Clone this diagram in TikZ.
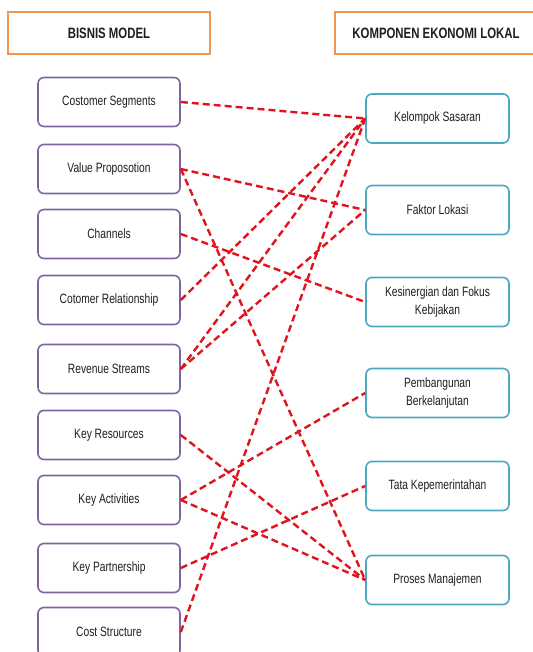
\documentclass[tikz,border=0pt]{standalone}
\usepackage{fontspec}
\setmainfont[FakeStretch=0.76]{Liberation Sans}
\definecolor{hdrorange}{RGB}{240,150,80}
\definecolor{leftpurple}{RGB}{128,100,162}
\definecolor{rightteal}{RGB}{75,168,190}
\definecolor{linkred}{RGB}{225,20,30}
\definecolor{txt}{RGB}{30,30,30}
\begin{document}
\begin{tikzpicture}[x=1pt,y=-1pt,
  hdr/.style={draw=hdrorange, line width=1.6pt, fill=white, minimum height=42pt, inner sep=0pt, text=txt, font=\fontsize{15}{17}\selectfont\bfseries},
  lbox/.style={draw=leftpurple, line width=1.6pt, rounded corners=6pt, fill=white, minimum width=142pt, minimum height=49pt, inner sep=0pt, text=txt, font=\fontsize{13.5}{15}\selectfont},
  rbox/.style={draw=rightteal, line width=1.6pt, rounded corners=6pt, fill=white, minimum width=143pt, minimum height=49pt, inner sep=0pt, align=center, text=txt, font=\fontsize{13.5}{18.5}\selectfont},
  link/.style={draw=linkred, line width=2.4pt, dash pattern=on 7pt off 4pt}
]
\useasboundingbox (0,0) rectangle (532,652);
\fill[white] (0,0) rectangle (532,652);

\node[hdr, minimum width=202pt] (h1) at (109,33) {BISNIS MODEL};
\node[hdr, minimum width=202pt] (h2) at (436,33) {KOMPONEN EKONOMI LOKAL};

\node[lbox] (l1) at (109,102) {Costomer Segments};
\node[lbox] (l2) at (109,169) {Value Proposotion};
\node[lbox] (l3) at (109,234) {Channels};
\node[lbox] (l4) at (109,300) {Cotomer Relationship};
\node[lbox] (l5) at (109,369) {Revenue Streams};
\node[lbox] (l6) at (109,435) {Key Resources};
\node[lbox] (l7) at (109,500) {Key Activities};
\node[lbox] (l8) at (109,568) {Key Partnership};
\node[lbox] (l9) at (109,632) {Cost Structure};

\node[rbox] (r1) at (437.5,118.5) {Kelompok Sasaran};
\node[rbox] (r2) at (437.5,210) {Faktor Lokasi};
\node[rbox] (r3) at (437.5,302) {Kesinergian dan Fokus\\Kebijakan};
\node[rbox] (r4) at (437.5,393) {Pembangunan\\Berkelanjutan};
\node[rbox] (r5) at (437.5,486) {Tata Kepemerintahan};
\node[rbox] (r6) at (437.5,580) {Proses Manajemen};

\draw[link] (l1.east) -- (r1.west);
\draw[link] (l2.east) -- (r2.west);
\draw[link] (l2.east) -- (r6.west);
\draw[link] (l3.east) -- (r3.west);
\draw[link] (l4.east) -- (r1.west);
\draw[link] (l5.east) -- (r1.west);
\draw[link] (l5.east) -- (r2.west);
\draw[link] (l6.east) -- (r6.west);
\draw[link] (l7.east) -- (r4.west);
\draw[link] (l7.east) -- (r6.west);
\draw[link] (l8.east) -- (r5.west);
\draw[link] (l9.east) -- (r1.west);
\end{tikzpicture}
\end{document}
